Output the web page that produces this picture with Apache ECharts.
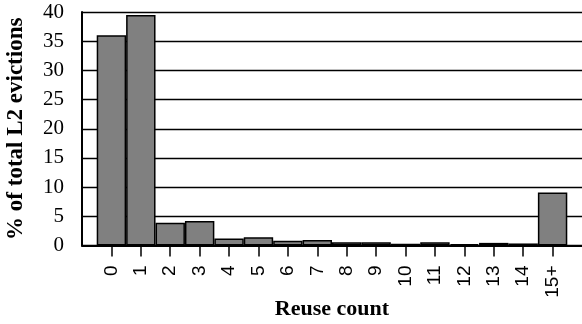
<!DOCTYPE html>
<html>
<head>
<meta charset="utf-8">
<script src="https://cdn.jsdelivr.net/npm/echarts@6/dist/echarts.min.js"></script>
<style>
html,body{margin:0;padding:0;background:#fff;}
#main{width:582px;height:324px;}
</style>
</head>
<body>
<div id="main"></div>
<script>
var categories = ['0','1','2','3','4','5','6','7','8','9','10','11','12','13','14','15+'];
var values = [36.0, 39.5, 3.9, 4.2, 1.2, 1.4, 0.8, 0.95, 0.55, 0.55, 0.3, 0.55, 0.25, 0.45, 0.35, 9.1];
var yTicks = [0, 5, 10, 15, 20, 25, 30, 35, 40];

var chart = echarts.init(document.getElementById('main'), null, {renderer: 'canvas'});
var gridLeft = 82, gridRight = 0;
var plotW = 582 - gridLeft - gridRight;
var bandW = plotW / (categories.length + 1);

chart.setOption({
  animation: false,
  backgroundColor: '#fff',
  grid: {left: gridLeft, right: gridRight, top: 12, bottom: 78.5, containLabel: false, outerBoundsMode: 'none'},
  xAxis: {
    type: 'value',
    min: -1,
    max: categories.length,
    interval: 1,
    name: 'Reuse count',
    nameLocation: 'middle',
    nameGap: 53,
    nameMoveOverlap: false,
    nameTextStyle: {fontFamily: 'Liberation Serif', fontWeight: 'bold', fontSize: 22, color: '#000'},
    axisLine: {show: true, onZero: false, lineStyle: {color: '#000', width: 2}},
    axisTick: {show: true, length: 11, lineStyle: {color: '#000', width: 1.5}},
    splitLine: {show: false},
    axisLabel: {
      rotate: 90,
      margin: 20,
      fontFamily: 'Liberation Sans',
      fontSize: 19,
      color: '#000',
      showMinLabel: false,
      showMaxLabel: false,
      formatter: function (v) { return categories[v] !== undefined ? categories[v] : ''; }
    }
  },
  yAxis: {
    type: 'value',
    min: 0,
    max: 40,
    interval: 5,
    name: '% of total L2 evictions',
    nameLocation: 'middle',
    nameGap: 54,
    nameMoveOverlap: false,
    nameTextStyle: {fontFamily: 'Liberation Serif', fontWeight: 'bold', fontSize: 23, color: '#000'},
    axisLine: {show: true, onZero: false, lineStyle: {color: '#000', width: 2}},
    axisTick: {show: false},
    splitLine: {show: true, lineStyle: {color: '#000', width: 1.3}},
    axisLabel: {
      margin: 18,
      fontFamily: 'Liberation Serif',
      fontSize: 21,
      color: '#000',
      formatter: function (v) { return yTicks.indexOf(v) >= 0 ? String(v) : ''; }
    }
  },
  series: [{
    type: 'bar',
    barWidth: bandW,
    data: values.map(function (v, i) { return [i, v]; }),
    itemStyle: {color: '#808080', borderColor: '#000', borderWidth: 1.5}
  }]
});
</script>
</body>
</html>
